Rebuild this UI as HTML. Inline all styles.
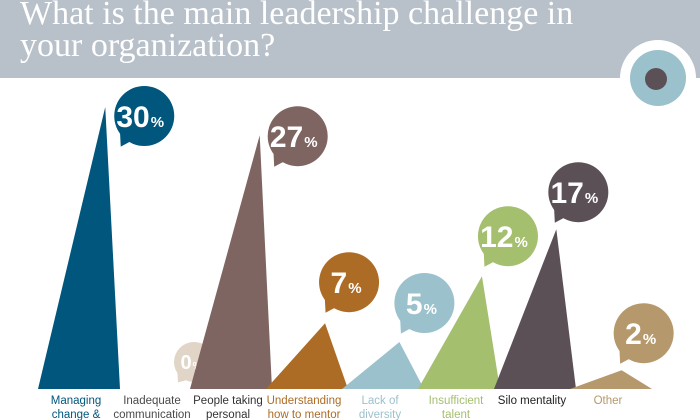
<!DOCTYPE html>
<html><head><meta charset="utf-8">
<style>
html,body{margin:0;padding:0;background:#fff;}
#wrap{position:relative;width:700px;height:420px;overflow:hidden;}
#header{position:absolute;left:0;top:0;width:700px;height:78px;background:#b8c0c9;}
#title{position:absolute;left:20px;top:-2px;font-family:"Liberation Serif",serif;font-size:34px;line-height:32px;color:#fff;margin:0;font-weight:normal;}
svg{position:absolute;left:0;top:0;}
</style></head>
<body>
<div id="wrap">
<div id="header"></div>
<h1 id="title">What is the main leadership challenge in<br>your organization?</h1>
<svg id="chart" width="700" height="420">
<g>
<circle cx="658" cy="78" r="38" fill="#fff"/>
<circle cx="658" cy="78" r="28" fill="#9bc1cc"/>
<circle cx="656" cy="79" r="11" fill="#5c5057"/>
</g>
</svg>
</div>
<script>
const categories=[["Managing","change &"],["Inadequate","communication"],["People taking","personal"],["Understanding","how to mentor"],["Lack of","diversity"],["Insufficient","talent"],["Silo mentality"],["Other"]];
const values=[30,0,27,7,5,12,17,2];
const colors=["#00567d","#e0d5c6","#7f6561","#ad6c25","#9bc1cc","#a4bf6e","#5c5057","#b5986b"];
const labelColors=["#00567d","#4a4a4a","#333333","#ad6c25","#9bc1cc","#a4bf6e","#222222","#b5986b"];
// layout (not data)
const baseY=389, pxPerPct=9.4, slotW=76, slot0=40;
const apexFrac=[0.82,0.5,0.85,0.72,0.7,0.78,0.76,0.63];
const bubbleDx=[39,38,38,24,25,26,22,22];
const bubbleDy=[9,9,1,-41,-39,-40,-37,-37];
const ns="http://www.w3.org/2000/svg";
const svg=document.getElementById('chart');
function yScale(v){return baseY-v*pxPerPct;}
function mk(t,a){const e=document.createElementNS(ns,t);for(const k in a)e.setAttribute(k,a[k]);return e;}
values.forEach((v,i)=>{
  const x0=slot0+i*slotW-2, x1=x0+82;
  const ax=x0+(x1-x0)*apexFrac[i], ay=yScale(v);
  const g=mk('g',{});
  
  
  if(v>0){
    const tri=mk('polygon',{points:`${x0},${baseY} ${ax},${ay} ${x1},${baseY}`,fill:colors[i]});
    
    
    g.appendChild(tri);
  }
  let cx,cy,r;
  if(v>0){cx=ax+bubbleDx[i];cy=ay+bubbleDy[i];r=30;}
  else{cx=x0+(x1-x0)*0.5+39;cy=362;r=20;}
  const b=mk('g',{});
  
  
  b.appendChild(mk('circle',{cx:cx,cy:cy,r:r,fill:colors[i]}));
  const tx=cx-r*0.75, ty=cy+r*0.62;
  b.appendChild(mk('polygon',{points:`${tx-2},${ty-8} ${tx-1},${cy+r*1.02} ${tx+14},${ty+4}`,fill:colors[i]}));
  const fs=v>0?30:20;
  const t=mk('text',{x:cx+(v>9?-4:-3),y:cy+fs*0.36,'text-anchor':'middle','font-family':'Liberation Sans, sans-serif','font-weight':'bold','font-size':fs,fill:'#fff'});
  
  
  t.textContent=v;
  const ts=mk('tspan',{'font-size':fs*0.5,dx:1});
  ts.textContent='%';
  t.appendChild(ts);
  b.appendChild(t);
  g.appendChild(b);
  const lx=slot0+i*slotW+36;
  const lab=mk('text',{x:lx,y:404,'text-anchor':'middle','font-family':'Liberation Sans Narrow, Liberation Sans, sans-serif','font-size':11.5,fill:labelColors[i]});
  
  
  categories[i].forEach((ln,j)=>{const s=mk('tspan',{x:lx,dy:j?14:0});s.textContent=ln;lab.appendChild(s);});
  g.appendChild(lab);
  svg.appendChild(g);
});
</script>
</body></html>
